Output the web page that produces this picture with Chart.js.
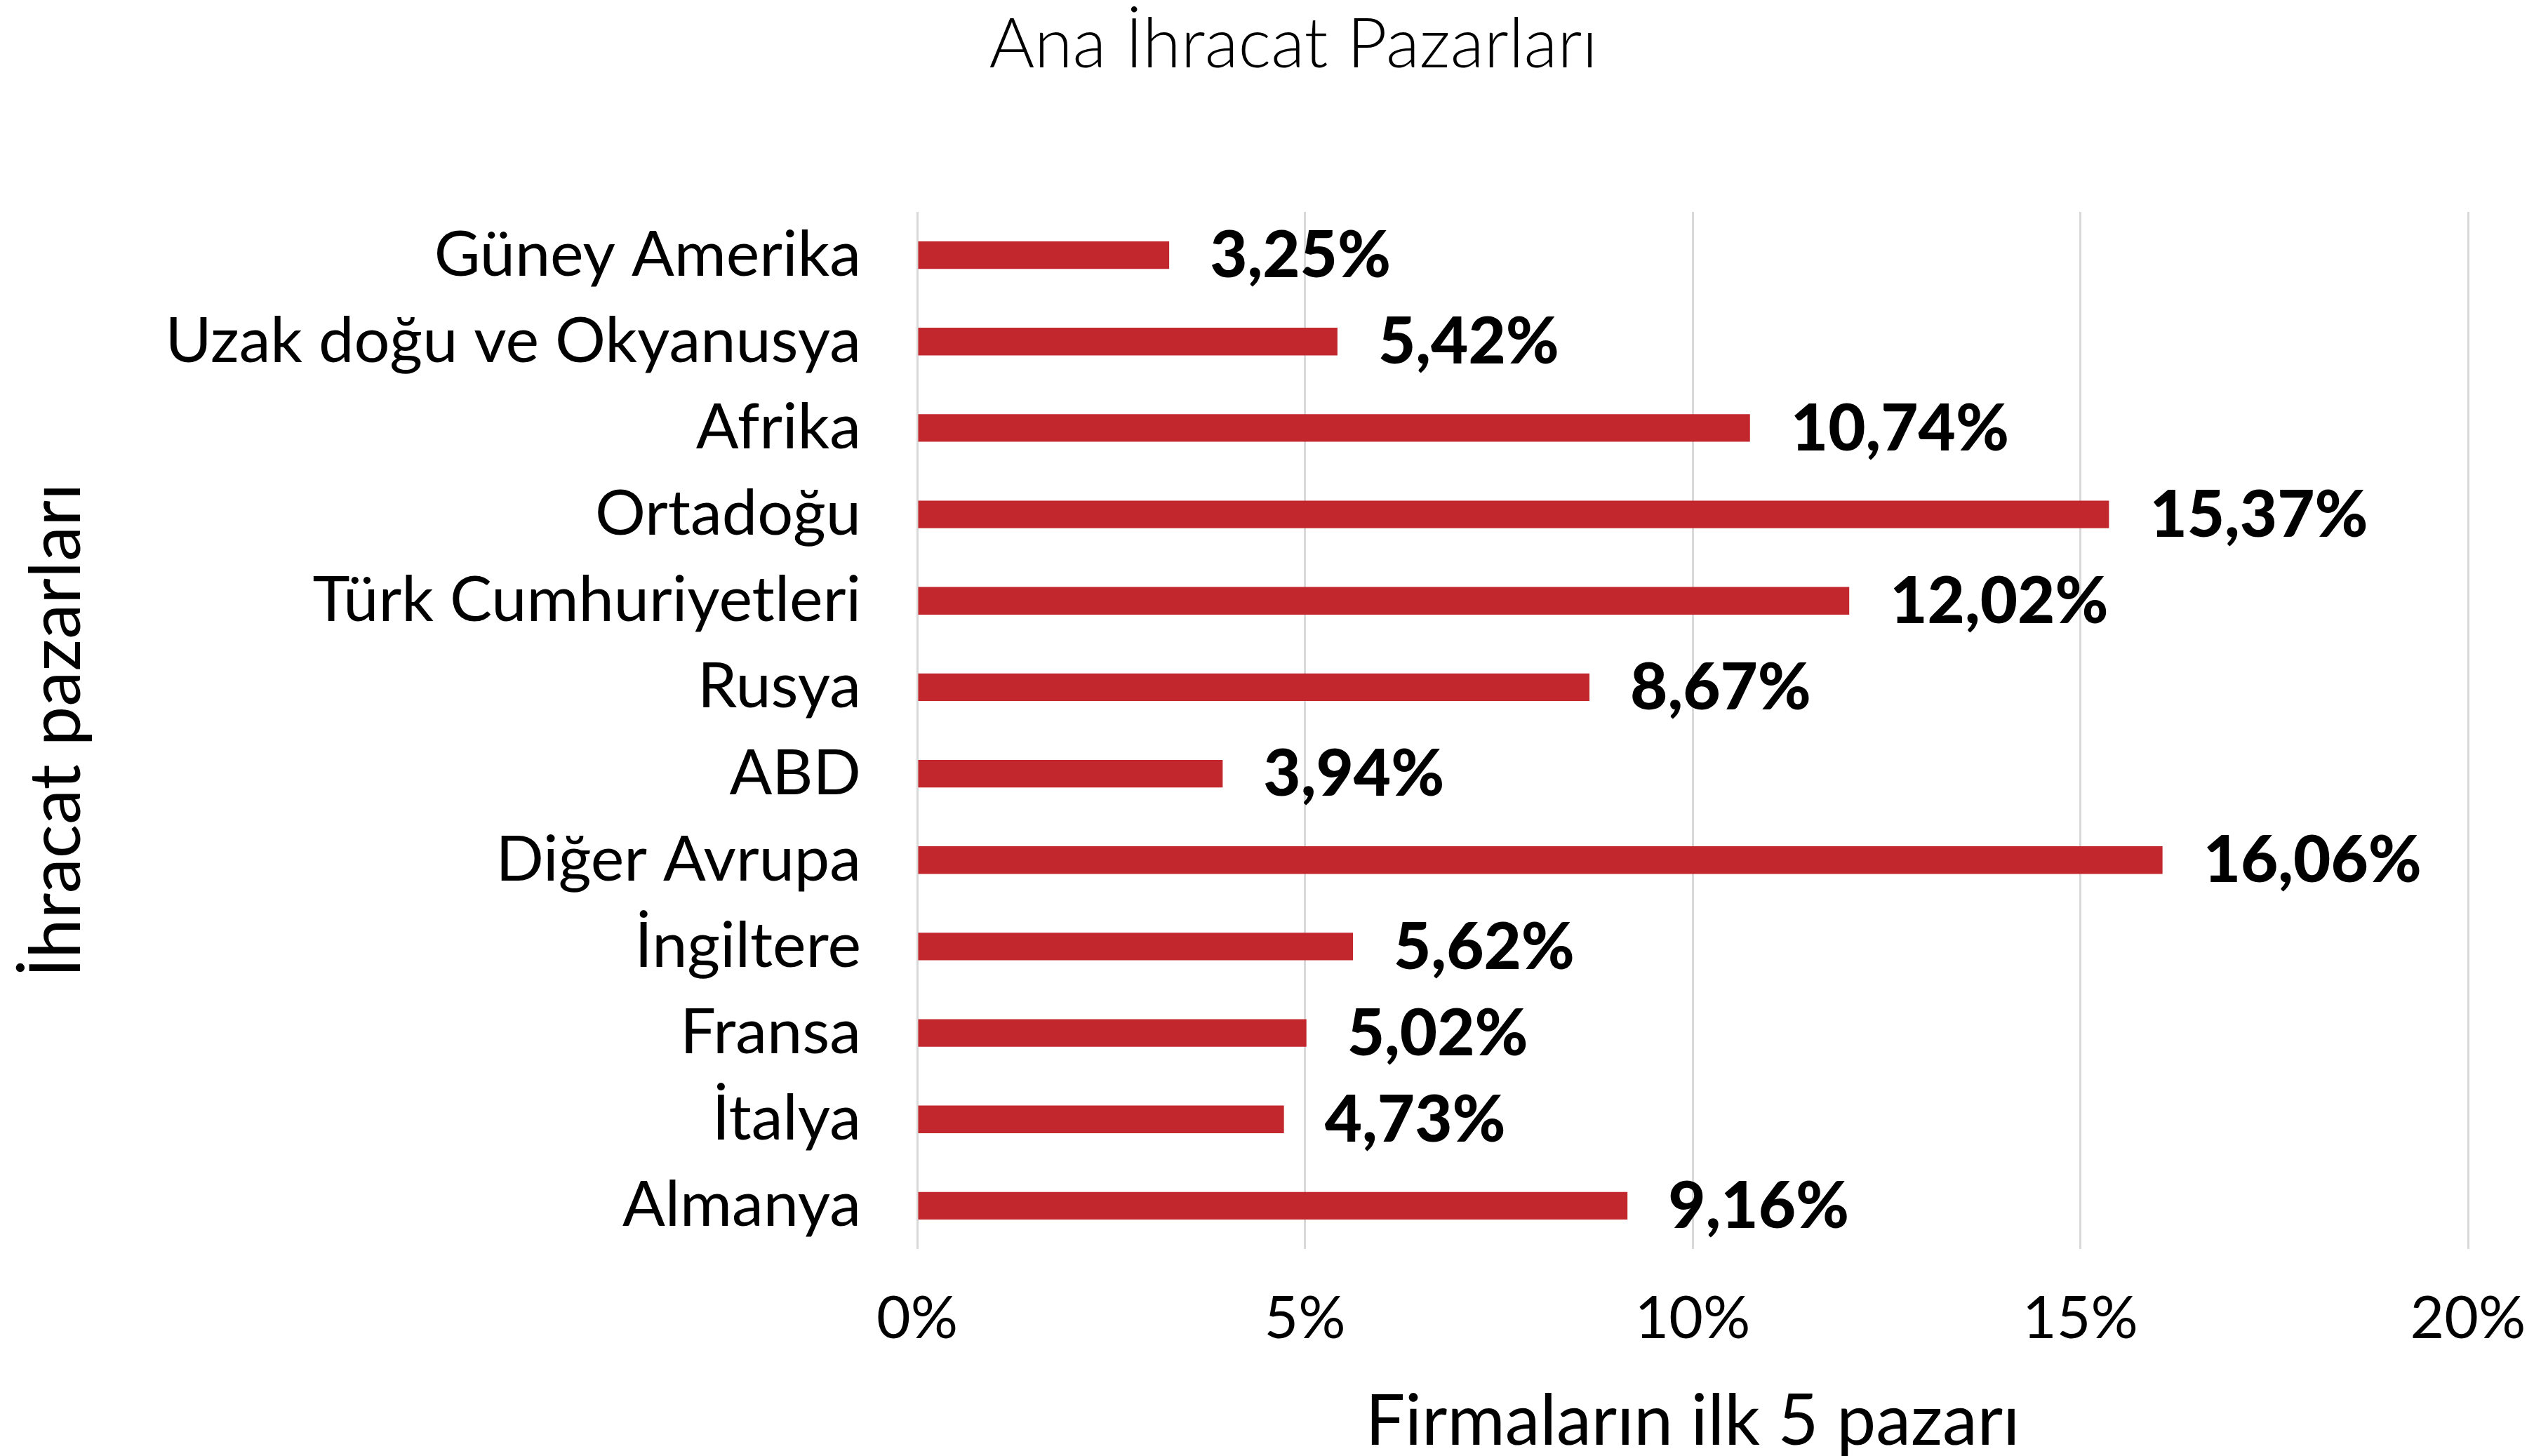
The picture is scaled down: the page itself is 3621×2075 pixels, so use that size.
<!DOCTYPE html>
<html lang="tr">
<head>
<meta charset="utf-8">
<title>Ana İhracat Pazarları</title>
<script src="https://cdn.jsdelivr.net/npm/chart.js@4/dist/chart.umd.min.js"></script>
<style>
  html, body { margin: 0; padding: 0; background: #ffffff; }
  #wrap { width: 3621px; height: 2075px; }
</style>
</head>
<body>
<div id="wrap"><canvas id="chartPazar" width="3621" height="2075"></canvas></div>
<script>
// Veriler (yüzde)
const pazarlar = [
    "Güney Amerika", "Uzak doğu ve Okyanusya", "Afrika", "Ortadoğu",
    "Türk Cumhuriyetleri", "Rusya", "ABD", "Diğer Avrupa",
    "İngiltere", "Fransa", "İtalya", "Almanya"
];
const oranlar = [3.25, 5.42, 10.74, 15.37, 12.02, 8.67, 3.94, 16.06, 5.62, 5.02, 4.73, 9.16];
const eksenTikleri = [0, 5, 10, 15, 20];
const baslik = "Ana İhracat Pazarları";

const yaziTipi = "Lato, 'Open Sans', sans-serif";

function yuzdeYaz(v) {
    return v.toFixed(2).replace(".", ",") + "%";
}

// Üst başlık ve çubukların sağındaki değer etiketleri
const degerEtiketi = {
    id: "degerEtiketi",
    afterDatasetsDraw(chart) {
        const ctx = chart.ctx;
        const meta = chart.getDatasetMeta(0);
        ctx.save();
        ctx.font = "900 92px " + yaziTipi;
        ctx.fillStyle = "#000000";
        ctx.textAlign = "left";
        ctx.textBaseline = "middle";
        meta.data.forEach((bar, i) => {
            ctx.fillText(yuzdeYaz(oranlar[i]), bar.x + 58, bar.y + 2);
        });

        // başlık
        ctx.font = "300 99px " + yaziTipi;
        ctx.textAlign = "center";
        ctx.fillText(baslik, 1843, 64);
        ctx.restore();
    }
};

const ctx = document.getElementById("chartPazar").getContext("2d");
new Chart(ctx, {
    type: "bar",
    data: {
        labels: pazarlar,
        datasets: [{
            data: oranlar,
            backgroundColor: "#C1272D",
            borderWidth: 0,
            categoryPercentage: 1,
            barPercentage: 0.32
        }]
    },
    options: {
        indexAxis: "y",
        responsive: false,
        animation: false,
        layout: { padding: { left: 0, right: 104, top: 302, bottom: 0 } },
        plugins: {
            legend: { display: false },
            tooltip: { enabled: false },
            title: { display: false }
        },
        scales: {
            x: {
                min: 0,
                max: 20,
                afterBuildTicks(scale) {
                    scale.ticks = eksenTikleri.map(v => ({ value: v }));
                },
                afterFit(scale) {
                    scale.height = 295;
                    scale.paddingLeft = 0;
                    scale.paddingRight = 0;
                },
                grid: { color: "#d9d9d9", lineWidth: 3, drawTicks: false },
                border: { display: false },
                ticks: {
                    color: "#000000",
                    padding: 50,
                    font: { family: yaziTipi, size: 84 },
                    callback: v => v + "%"
                },
                title: {
                    display: true,
                    text: "Firmaların ilk 5 pazarı",
                    color: "#000000",
                    font: { family: yaziTipi, size: 100, lineHeight: 0.96 },
                    padding: { top: 0, bottom: 0 }
                }
            },
            y: {
                afterFit(scale) {
                    scale.width = 1307;
                    scale.paddingTop = 0;
                    scale.paddingBottom = 0;
                },
                grid: { display: false },
                border: { display: false },
                ticks: {
                    color: "#000000",
                    padding: 72,
                    font: { family: yaziTipi, size: 90 }
                },
                title: {
                    display: true,
                    text: "İhracat pazarları",
                    color: "#000000",
                    font: { family: yaziTipi, size: 101, lineHeight: 1 },
                    padding: { top: 31, bottom: 0 }
                }
            }
        }
    },
    plugins: [degerEtiketi]
});
</script>
</body>
</html>
